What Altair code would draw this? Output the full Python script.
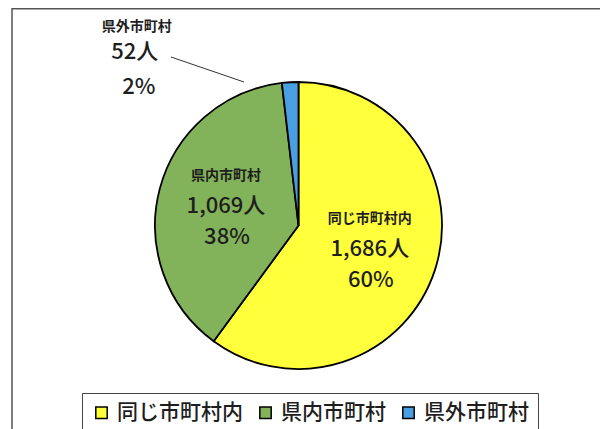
import altair as alt
import pandas as pd

# ---- data ----
categories = ["同じ市町村内", "県内市町村", "県外市町村"]
counts = [1686, 1069, 52]
order = [0, 1, 2]
colors = ["#FFFF3C", "#82B25A", "#4A9EE2"]

df = pd.DataFrame({"cat": categories, "count": counts, "ord": order})

W, H = 592, 421
CX, CY, R = 290.5, 217.5, 143.5
FONT = "Noto Sans CJK JP"
TXT = "#1e1e1e"

base = alt.Chart(df)

color = alt.Color(
    "cat:N",
    scale=alt.Scale(domain=categories, range=colors),
    legend=alt.Legend(
        title=None,
        orient="none",
        legendX=74,
        legendY=385,
        direction="horizontal",
        symbolType="square",
        symbolSize=130,
        symbolStrokeColor="black",
        symbolStrokeWidth=1.5,
        labelFont=FONT,
        labelFontSize=21,
        labelFontWeight=500,
        labelColor=TXT,
        labelOffset=5,
        columnPadding=12,
        padding=9,
        strokeColor="#444444",
        labelLimit=300,
    ),
)

frame = alt.Chart(pd.DataFrame({"f": [0]})).mark_rect(
    filled=False, stroke="#555555", strokeWidth=1.5
).encode(x=alt.value(4), x2=alt.value(593), y=alt.value(0.75), y2=alt.value(440))

pie = base.mark_arc(stroke="black", strokeWidth=1.8, outerRadius=R).encode(
    theta=alt.Theta("count:Q", stack=True),
    color=color,
    order=alt.Order("ord:Q"),
    x=alt.value(CX),
    y=alt.value(CY),
)

lab = base.transform_joinaggregate(total="sum(count)").transform_window(
    cum="sum(count)", sort=[alt.SortField("ord")], frame=[None, 0]
).transform_calculate(
    mid="(datum.cum - datum.count / 2) / datum.total * 2 * PI",
    vtxt="format(datum.count, ',') + '人'",
    ptxt="format(datum.count / datum.total, '.0%')",
)


def text_layer(filt, field, r, dx, dy, size, weight=500):
    return lab.transform_filter(filt).mark_text(
        radius=r, dx=dx, dy=dy, font=FONT, fontSize=size, fontWeight=weight,
        color=TXT, align="center", baseline="middle",
    ).encode(
        theta=alt.Theta("mid:Q", scale=None),
        text=alt.Text(field),
        x=alt.value(CX),
        y=alt.value(CY),
    )


inside = "datum.ord < 2"
outside = "datum.ord == 2"

layers = [
    frame,
    pie,
    text_layer(inside, "cat:N", 75, 0, -30, 14, "bold"),
    text_layer(inside, "vtxt:N", 75, 0, 0, 22),
    text_layer(inside, "ptxt:N", 75, 1, 31, 22),
    text_layer(outside, "cat:N", 150, -153, -49, 14, "bold"),
    text_layer(outside, "vtxt:N", 150, -155, -24, 22),
    text_layer(outside, "ptxt:N", 150, -151, 11, 22),
]

leader = alt.Chart(pd.DataFrame({"f": [0]})).mark_rule(
    color="#333333", strokeWidth=1
).encode(x=alt.value(163), y=alt.value(49), x2=alt.value(236), y2=alt.value(74))

chart = alt.layer(*layers, leader).properties(
    width=W, height=H, autosize=alt.AutoSizeParams(type="none"),
    padding={"left": 0, "top": 0, "right": 0, "bottom": 0},
).configure_view(stroke=None)

chart.save("out.html", embed_options={"renderer": "svg", "actions": False})
